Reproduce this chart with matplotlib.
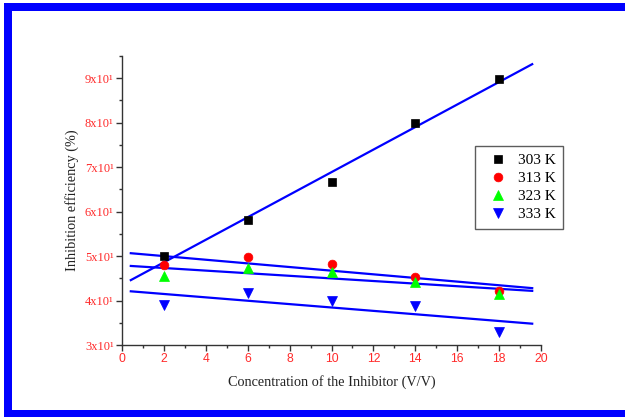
import numpy as np
import matplotlib
matplotlib.use("Agg")
import matplotlib.pyplot as plt
from matplotlib.patches import Rectangle
from matplotlib.ticker import MultipleLocator, FuncFormatter

# data
conc = [2, 6, 10, 14, 18]
ie_303 = [50.0, 58.1, 66.6, 79.9, 89.8]
ie_313 = [48.0, 49.9, 48.3, 45.3, 42.1]
ie_323 = [45.6, 47.4, 46.4, 44.1, 41.4]
ie_333 = [39.0, 41.7, 39.9, 38.7, 32.9]
labels = ["303 K", "313 K", "323 K", "333 K"]

serif = "Liberation Serif"
sans = "Liberation Sans"
tick_red = "#ff2a2a"

fig = plt.figure(figsize=(6.25, 4.18), dpi=100)
ax = fig.add_axes([0.1952, 0.1746, 0.6704, 0.6914])

series = [
    (ie_303, "s", "black", 5.6),
    (ie_313, "o", "#ff0000", 6.3),
    (ie_323, "^", "#00ff00", 7),
    (ie_333, "v", "#0000ff", 7),
]

xfit = np.array([0.42, 19.58])
for (vals, mk, col, ms), lab in zip(series, labels):
    ax.plot(conc, vals, linestyle="none", marker=mk, color=col,
            markersize=ms, markeredgewidth=0.5, label=lab, zorder=3)
    k, b = np.polyfit(conc, vals, 1)
    ax.plot(xfit, k * xfit + b, color="#0000ff", lw=1.6, zorder=2)

ax.set_xlim(0, 20)
ax.set_ylim(30, 95)
ax.xaxis.set_major_locator(MultipleLocator(2))
ax.xaxis.set_minor_locator(MultipleLocator(1))
ax.yaxis.set_major_locator(MultipleLocator(10))
ax.yaxis.set_minor_locator(MultipleLocator(5))
ax.yaxis.set_major_formatter(FuncFormatter(lambda v, p: f"{int(round(v / 10))}x10\u00b9"))

for s in ["top", "right"]:
    ax.spines[s].set_visible(False)
for s in ["left", "bottom"]:
    ax.spines[s].set_color("#333333")
    ax.spines[s].set_linewidth(1.0)

ax.tick_params(which="major", direction="out", length=4, width=1, color="#333333")
ax.tick_params(which="minor", direction="out", length=2.5, width=1, color="#333333")
ax.tick_params(axis="x", labelsize=8.8, labelcolor=tick_red, pad=2)
ax.tick_params(axis="y", labelsize=9, labelcolor=tick_red, pad=2)
for t in ax.get_xticklabels():
    t.set_fontfamily(sans)
for t in ax.get_yticklabels():
    t.set_fontfamily(serif)

ax.set_xlabel("Concentration of the Inhibitor (V/V)", fontfamily=serif,
              fontsize=10.3, color="#222222", labelpad=7)
ax.set_ylabel("Inhibition efficiency (%)", fontfamily=serif,
              fontsize=10.3, color="#222222", labelpad=4)

leg = ax.legend(loc="upper left", bbox_to_anchor=(0.8425, 0.689),
                borderaxespad=0,
                prop={"family": serif, "size": 11}, frameon=True,
                fancybox=False, edgecolor="#333333", borderpad=0.5,
                labelspacing=0.28, handletextpad=0.3, handlelength=2.0)
leg.get_frame().set_linewidth(1.0)

# blue frame around the figure (cut off on the right)
W, H = 625.0, 418.0
for x0, y0, w, h in [(4, 3, 8, 414), (4, 3, 621, 8), (4, 410, 621, 7)]:
    fig.add_artist(Rectangle((x0 / W, 1 - (y0 + h) / H), w / W, h / H,
                             transform=fig.transFigure, color="#0000ff", lw=0))

fig.savefig("out.png", dpi=100)
